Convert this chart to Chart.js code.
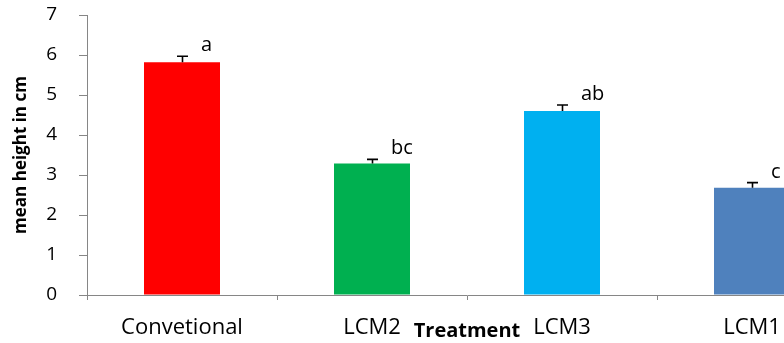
<!DOCTYPE html>
<html>
<head>
<meta charset="utf-8">
<script src="https://cdn.jsdelivr.net/npm/chart.js@4.4.1/dist/chart.umd.min.js"></script>
<style>
  html, body { margin: 0; padding: 0; background: #ffffff; overflow: hidden; }
  #wrap { width: 784px; height: 343px; overflow: hidden; }
  canvas { display: block; }
</style>
</head>
<body>
<div id="wrap"><canvas id="chart" width="860" height="343"></canvas></div>
<script>
// Plant height by treatment (mean ± standard error, letters = significance groups)
const treatments = ['Convetional', 'LCM2', 'LCM3', 'LCM1'];
const meanHeights = [5.82, 3.29, 4.60, 2.68];
const stdErrors = [0.15, 0.10, 0.15, 0.13];
const groupLetters = ['a', 'bc', 'ab', 'c'];
const barColors = ['#FF0000', '#00B050', '#00B0F0', '#4F81BD'];
const yTickValues = [0, 1, 2, 3, 4, 5, 6, 7];

const axisGrey = '#868686';
const fontFamily = '"Open Sans", "Noto Sans", sans-serif';

// Draws the upper error whisker and the significance letter for each bar
const errorBarPlugin = {
  id: 'errorBars',
  afterDatasetsDraw(chart) {
    const ctx = chart.ctx;
    const yScale = chart.scales.y;
    const meta = chart.getDatasetMeta(0);
    ctx.save();
    meta.data.forEach((bar, i) => {
      const top = yScale.getPixelForValue(meanHeights[i] + stdErrors[i]);
      const x = Math.round(bar.x) + 0.5;
      ctx.strokeStyle = '#000000';
      ctx.lineWidth = 1.6;
      ctx.beginPath();
      ctx.moveTo(x, bar.y);
      ctx.lineTo(x, top);
      ctx.moveTo(x - 5.5, top);
      ctx.lineTo(x + 5.5, top);
      ctx.stroke();

      ctx.fillStyle = '#000000';
      ctx.font = '20px ' + fontFamily;
      ctx.textAlign = 'left';
      ctx.textBaseline = 'alphabetic';
      ctx.fillText(groupLetters[i], bar.x + 19, top - 5);
    });
    ctx.restore();
  }
};

new Chart(document.getElementById('chart'), {
  type: 'bar',
  data: {
    labels: treatments,
    datasets: [{
      data: meanHeights,
      backgroundColor: barColors,
      borderWidth: 0,
      barPercentage: 0.4,
      categoryPercentage: 1.0
    }]
  },
  options: {
    responsive: false,
    animation: false,
    devicePixelRatio: 1,
    layout: { padding: { top: 15, right: 13, left: 0, bottom: 0 } },
    plugins: {
      legend: { display: false },
      tooltip: { enabled: false }
    },
    scales: {
      x: {
        offset: true,
        grid: {
          offset: true,
          drawOnChartArea: false,
          drawTicks: true,
          tickLength: 5,
          color: axisGrey
        },
        border: { color: axisGrey, width: 1 },
        ticks: {
          color: '#000000',
          padding: 15,
          maxRotation: 0,
          font: { family: fontFamily, size: 22 }
        },
        title: {
          display: true,
          text: 'Treatment',
          color: '#000000',
          padding: { top: 0, bottom: 0 },
          font: { family: fontFamily, size: 20, weight: 'bold' }
        },
        afterFit(scale) {
          scale.height = 48;
          scale.paddingLeft = 0;
          scale.paddingRight = 0;
        }
      },
      y: {
        min: 0,
        max: 7,
        afterBuildTicks(scale) {
          scale.ticks = yTickValues.map(v => ({ value: v }));
        },
        grid: {
          drawOnChartArea: false,
          drawTicks: true,
          tickLength: 8,
          color: axisGrey
        },
        border: { color: axisGrey, width: 1 },
        ticks: {
          color: '#000000',
          padding: 22,
          font: { family: fontFamily, size: 19 }
        },
        title: {
          display: true,
          text: 'mean height in cm',
          color: '#000000',
          padding: { top: 11, bottom: 0 },
          font: { family: fontFamily, size: 17, weight: 'bold' }
        },
        afterFit(scale) {
          scale.width = 87;
          scale.paddingTop = 0;
          scale.paddingBottom = 0;
        }
      }
    }
  },
  plugins: [errorBarPlugin]
});
</script>
</body>
</html>
